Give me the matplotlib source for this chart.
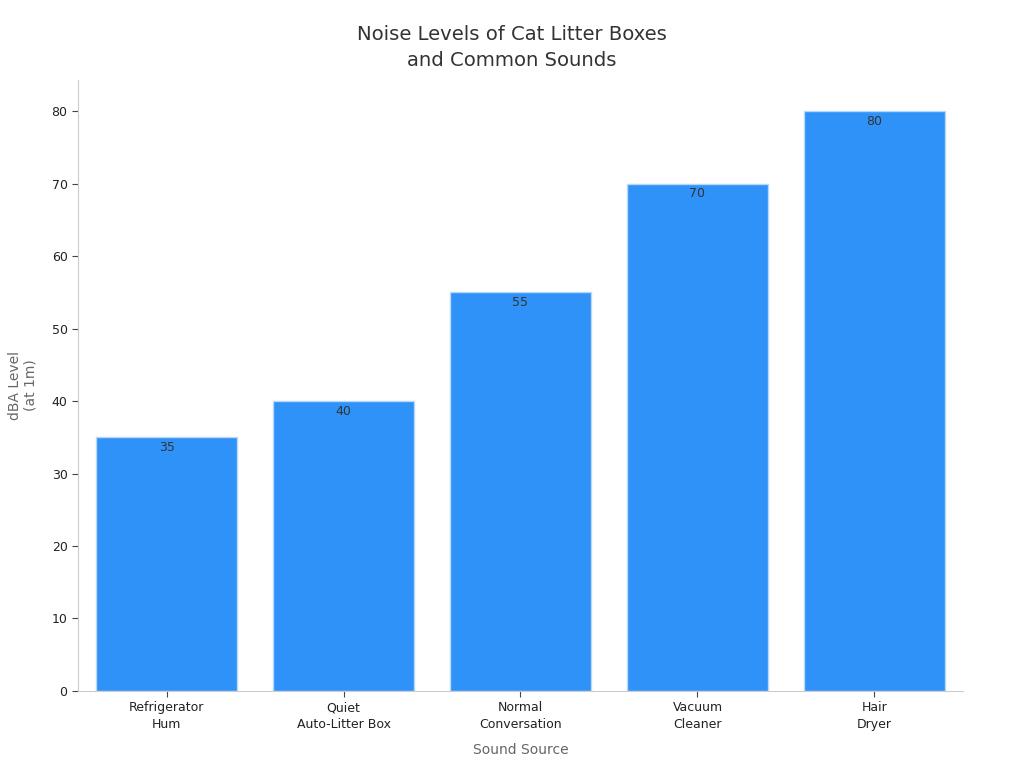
import matplotlib
matplotlib.use('Agg')
import matplotlib.pyplot as plt

sources = ['Refrigerator\nHum', 'Quiet\nAuto-Litter Box', 'Normal\nConversation',
           'Vacuum\nCleaner', 'Hair\nDryer']
dba = [35, 40, 55, 70, 80]

fig = plt.figure(figsize=(10.24, 7.68), dpi=100)
ax = fig.add_axes([0.0762, 0.1003, 0.8642, 0.7955])

bars = ax.bar(range(len(sources)), dba, width=0.8, color='#2f92f8',
              edgecolor='#b8d8f8', linewidth=1)
for b, v in zip(bars, dba):
    ax.text(b.get_x() + b.get_width() / 2, v - 0.5, str(v), ha='center', va='top',
            fontsize=9, color='#333333')

ax.set_xlim(-0.5, 4.5)
ax.set_ylim(0, 84.3)
ax.set_xticks(range(len(sources)))
ax.set_xticklabels(sources, fontsize=9, color='#222222', linespacing=1.35)
ax.set_yticks(range(0, 81, 10))
ax.tick_params(axis='y', labelsize=9, labelcolor='#222222', length=4, color='#444444')
ax.tick_params(axis='x', length=4, color='#444444')

for s in ['top', 'right']:
    ax.spines[s].set_visible(False)
for s in ['left', 'bottom']:
    ax.spines[s].set_color('#cccccc')

ax.set_xlabel('Sound Source', fontsize=10, color='#666666', labelpad=9)
ax.set_ylabel('dBA Level\n(at 1m)', fontsize=10, color='#666666', labelpad=10)
fig.suptitle('Noise Levels of Cat Litter Boxes\nand Common Sounds', fontsize=14.1,
             color='#333333', y=0.968, linespacing=1.5)

fig.savefig('out.png')
